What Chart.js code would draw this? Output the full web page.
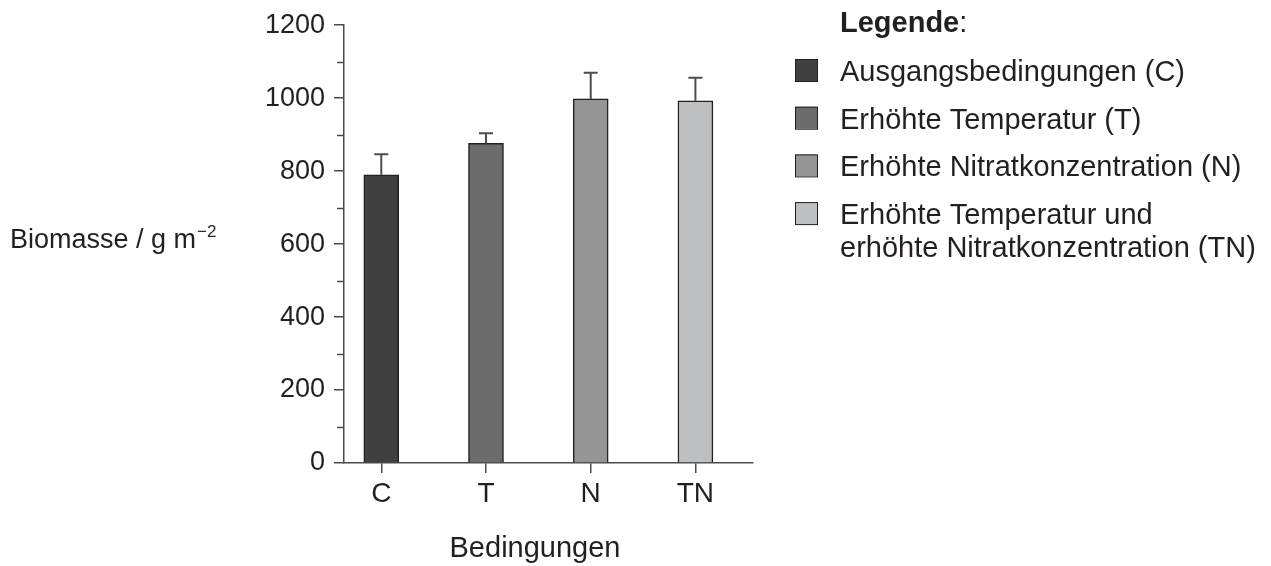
<!DOCTYPE html>
<html>
<head>
<meta charset="utf-8">
<script src="https://cdn.jsdelivr.net/npm/chart.js@4.4.1/dist/chart.umd.min.js"></script>
<style>
  html, body { margin: 0; padding: 0; background: #fff; }
  #wrap { width: 1271px; height: 566px; position: relative; }
</style>
</head>
<body>
<div id="wrap"><canvas id="biomassChart"></canvas></div>
<script>
var categories = ["C", "T", "N", "TN"];
var biomass = [790, 876, 998, 993];
var errors = [56, 28, 72, 63];
var barColors = ["#404040", "#6c6c6c", "#959595", "#bebfc0"];
var legendTitle = "Legende";
var legendLabels = [
  ["Ausgangsbedingungen (C)"],
  ["Erhöhte Temperatur (T)"],
  ["Erhöhte Nitratkonzentration (N)"],
  ["Erhöhte Temperatur und", "erhöhte Nitratkonzentration (TN)"]
];
var yTitle = "Biomasse / g m";
var yTitleSup = "\u22122";
var xTitle = "Bedingungen";

var FONT = "'Liberation Sans', Arial, sans-serif";
var INK = "#231f20";
var AXIS = "#4a4a4a";

// error bars, minor ticks, axis titles and legend
var extras = {
  id: "extras",
  afterDatasetsDraw: function (chart) {
    var ctx = chart.ctx;
    var xs = chart.scales.x, ys = chart.scales.y;
    ctx.save();
    ctx.strokeStyle = "#4d4d4d";
    ctx.lineWidth = 2;
    for (var i = 0; i < categories.length; i++) {
      var x = xs.getPixelForValue(i);
      var y0 = ys.getPixelForValue(biomass[i]);
      var y1 = ys.getPixelForValue(biomass[i] + errors[i]);
      ctx.beginPath();
      ctx.moveTo(x, y0);
      ctx.lineTo(x, y1);
      ctx.moveTo(x - 7, y1);
      ctx.lineTo(x + 7, y1);
      ctx.stroke();
    }
    ctx.restore();
  },
  afterDraw: function (chart) {
    var ctx = chart.ctx;
    var ys = chart.scales.y;
    var left = chart.chartArea.left;
    ctx.save();
    // minor ticks
    ctx.strokeStyle = AXIS;
    ctx.lineWidth = 1.5;
    for (var v = 100; v < 1200; v += 200) {
      var y = Math.round(ys.getPixelForValue(v)) + 0.5;
      ctx.beginPath();
      ctx.moveTo(left - 7, y);
      ctx.lineTo(left, y);
      ctx.stroke();
    }
    ctx.fillStyle = INK;
    ctx.textBaseline = "alphabetic";
    // y title
    ctx.textAlign = "left";
    ctx.font = "27px " + FONT;
    ctx.fillText(yTitle, 10, 248);
    var w = ctx.measureText(yTitle).width;
    ctx.font = "17px " + FONT;
    ctx.fillText(yTitleSup, 10 + w + 1, 237);
    // x title
    ctx.textAlign = "center";
    ctx.font = "29px " + FONT;
    ctx.fillText(xTitle, 535, 557);
    // legend
    ctx.textAlign = "left";
    ctx.font = "bold 29px " + FONT;
    ctx.fillText(legendTitle, 840, 32);
    var tw = ctx.measureText(legendTitle).width;
    ctx.font = "29px " + FONT;
    ctx.fillText(":", 840 + tw, 32);
    for (var k = 0; k < legendLabels.length; k++) {
      var top = 59 + k * 47.7;
      ctx.fillStyle = barColors[k];
      ctx.fillRect(795, top, 22, 22);
      ctx.strokeStyle = INK;
      ctx.lineWidth = 1;
      ctx.strokeRect(795.5, top + 0.5, 22, 22);
      ctx.fillStyle = INK;
      for (var l = 0; l < legendLabels[k].length; l++) {
        ctx.fillText(legendLabels[k][l], 840, top + 22 + l * 33);
      }
    }
    ctx.restore();
  }
};

var ctx = document.getElementById("biomassChart").getContext("2d");
var biomassChart = new Chart(ctx, {
  type: "bar",
  data: {
    datasets: [{
      label: "Biomasse",
      data: categories.map(function (c, i) { return { x: i, y: biomass[i] }; }),
      backgroundColor: barColors,
      borderColor: INK,
      borderWidth: 1.5,
      barThickness: 35
    }]
  },
  options: {
    responsive: true,
    maintainAspectRatio: false,
    animation: false,
    layout: { padding: { left: 0, right: 518, top: 22, bottom: 0 } },
    plugins: {
      legend: { display: false },
      tooltip: { enabled: false },
      title: { display: false }
    },
    scales: {
      x: {
        type: "linear",
        offset: false,
        min: -0.356,
        max: 3.55,
        afterBuildTicks: function (scale) {
          scale.ticks = categories.map(function (c, i) { return { value: i }; });
        },
        afterFit: function (scale) { scale.height = 103; },
        ticks: {
          autoSkip: false,
          padding: 4,
          color: INK,
          font: { family: FONT, size: 28 },
          callback: function (value) { return categories[value]; }
        },
        grid: { offset: false, drawOnChartArea: false, tickLength: 10, color: AXIS, lineWidth: 1.5 },
        border: { color: AXIS, width: 1.5 }
      },
      y: {
        min: 0,
        max: 1200,
        afterFit: function (scale) { scale.width = 344; },
        ticks: {
          stepSize: 200,
          padding: 9,
          color: INK,
          font: { family: FONT, size: 27 },
          callback: function (value) { return String(value); }
        },
        grid: { drawOnChartArea: false, tickLength: 10, color: AXIS, lineWidth: 1.5 },
        border: { color: AXIS, width: 1.5 }
      }
    }
  },
  plugins: [extras]
});
</script>
</body>
</html>
